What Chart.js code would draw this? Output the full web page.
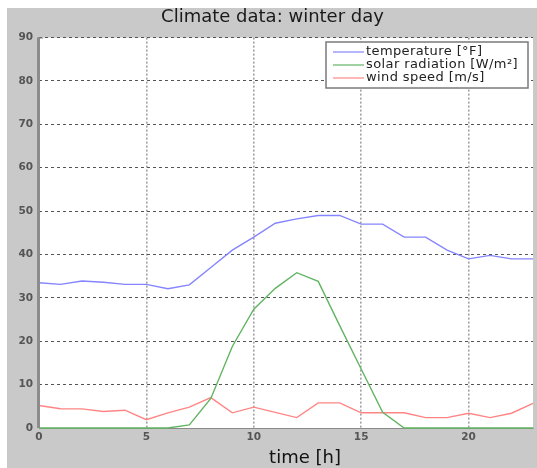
<!DOCTYPE html>
<html>
<head>
<meta charset="utf-8">
<script src="https://cdn.jsdelivr.net/npm/chart.js@4.4.0/dist/chart.umd.min.js"></script>
<style>
  html, body { margin: 0; padding: 0; background: #fff; }
  #wrap { position: relative; width: 537px; height: 468px; overflow: hidden; }
  #frame { position: absolute; left: 7px; top: 8px; right: 0; bottom: 0; background: #c9c9c9; }
  #chart { position: absolute; left: 0; top: 0; }
</style>
</head>
<body>
<div id="wrap">
  <div id="frame"></div>
  <canvas id="chart" width="537" height="468"></canvas>
</div>
<script>
const hours = [0, 1, 2, 3, 4, 5, 6, 7, 8, 9, 10, 11, 12, 13, 14, 15, 16, 17, 18, 19, 20, 21, 22, 23];
const temperature = [33.5, 33.1, 33.9, 33.6, 33.1, 33.1, 32.1, 33, 37, 41, 44, 47.2, 48.2, 49, 49, 47, 47, 44, 44, 41, 39, 39.8, 39, 39];
const solarRadiation = [0, 0, 0, 0, 0, 0, 0, 0.7, 6.8, 18.8, 27.4, 32.2, 35.8, 33.8, 23.6, 13.6, 3.6, 0, 0, 0, 0, 0, 0, 0];
const windSpeed = [5.2, 4.45, 4.4, 3.8, 4.1, 1.9, 3.5, 4.8, 7, 3.5, 4.8, 3.6, 2.4, 5.8, 5.8, 3.5, 3.5, 3.5, 2.4, 2.4, 3.4, 2.4, 3.4, 5.7];
const xTicks = [0, 5, 10, 15, 20];
const yTicks = [0, 10, 20, 30, 40, 50, 60, 70, 80, 90];

const seriesNames = ['temperature [°F]', 'solar radiation [W/m²]', 'wind speed [m/s]'];
const seriesColors = ['#8585ff', '#62b462', '#ff8585'];

const FONT = '"DejaVu Sans", Verdana, sans-serif';
const toPoints = arr => arr.map((v, i) => ({ x: hours[i], y: v }));

// white plot area, left axis bar, legend box inside the plot, x title
const plotDecor = {
  id: 'plotDecor',
  beforeDraw(chart) {
    const a = chart.chartArea;
    const ctx = chart.ctx;
    ctx.save();
    ctx.fillStyle = '#fff';
    ctx.fillRect(a.left, a.top, a.right - a.left, a.bottom - a.top);
    ctx.restore();
  },
  afterDatasetsDraw(chart) {
    const a = chart.chartArea;
    const ctx = chart.ctx;
    ctx.save();
    ctx.fillStyle = '#8c8c8c';
    ctx.fillRect(a.left - 2, a.top, 3, a.bottom - a.top);
    ctx.fillRect(a.left - 2, a.top, 6, 1);
    ctx.restore();
  },
  afterDraw(chart) {
    const ctx = chart.ctx;
    ctx.save();
    // legend
    const bx = 326, by = 42, bw = 202, bh = 46;
    ctx.fillStyle = '#fff';
    ctx.fillRect(bx, by, bw, bh);
    ctx.strokeStyle = '#7a7a7a';
    ctx.lineWidth = 1.5;
    ctx.strokeRect(bx, by, bw, bh);
    const rows = [52, 65, 78];
    ctx.font = '13px ' + FONT;
    ctx.letterSpacing = '0.4px';
    ctx.textBaseline = 'middle';
    rows.forEach((y, i) => {
      ctx.strokeStyle = seriesColors[i];
      ctx.lineWidth = 1.2;
      ctx.beginPath();
      ctx.moveTo(333, y);
      ctx.lineTo(364, y);
      ctx.stroke();
      ctx.fillStyle = '#222';
      ctx.fillText(seriesNames[i], 366, y);
    });
    // x axis title
    ctx.letterSpacing = '0px';
    ctx.font = '18px ' + FONT;
    ctx.fillStyle = '#111';
    ctx.textAlign = 'center';
    ctx.fillText('time [h]', 305, 458);
    ctx.restore();
  }
};

const tickFont = { family: FONT, size: 10.5, weight: 'bold' };

new Chart(document.getElementById('chart'), {
  type: 'line',
  data: {
    datasets: [
      { label: seriesNames[0], data: toPoints(temperature), borderColor: seriesColors[0], clip: 4 },
      { label: seriesNames[1], data: toPoints(solarRadiation), borderColor: seriesColors[1], clip: 4 },
      { label: seriesNames[2], data: toPoints(windSpeed), borderColor: seriesColors[2], clip: 4 }
    ]
  },
  options: {
    responsive: false,
    animation: false,
    layout: { padding: { left: 12, right: 4, top: 0, bottom: 0 } },
    elements: {
      line: { borderWidth: 1.4, tension: 0, fill: false },
      point: { radius: 0 }
    },
    plugins: {
      legend: { display: false },
      tooltip: { enabled: false },
      title: {
        display: true,
        text: 'Climate data: winter day',
        color: '#1a1a1a',
        font: { family: FONT, size: 18, weight: 'normal' },
        padding: { top: 7, bottom: 9 }
      }
    },
    scales: {
      x: {
        type: 'linear',
        min: 0,
        max: 23,
        afterBuildTicks: s => { s.ticks = xTicks.map(v => ({ value: v })); },
        afterFit: s => { s.height = 40; },
        ticks: { color: '#555', font: tickFont, padding: 3, maxRotation: 0 },
        grid: { color: '#a0a0a0', lineWidth: 1.6, drawTicks: false },
        border: { color: '#8a8a8a', width: 1, dash: [2, 2] }
      },
      y: {
        min: 0,
        max: 90,
        afterBuildTicks: s => { s.ticks = yTicks.map(v => ({ value: v })); },
        afterFit: s => { s.width = 27; },
        ticks: { color: '#555', font: tickFont, padding: 6 },
        grid: { color: '#555', lineWidth: 1, drawTicks: false },
        border: { display: false, dash: [3, 3] }
      }
    }
  },
  plugins: [plotDecor]
});
</script>
</body>
</html>
